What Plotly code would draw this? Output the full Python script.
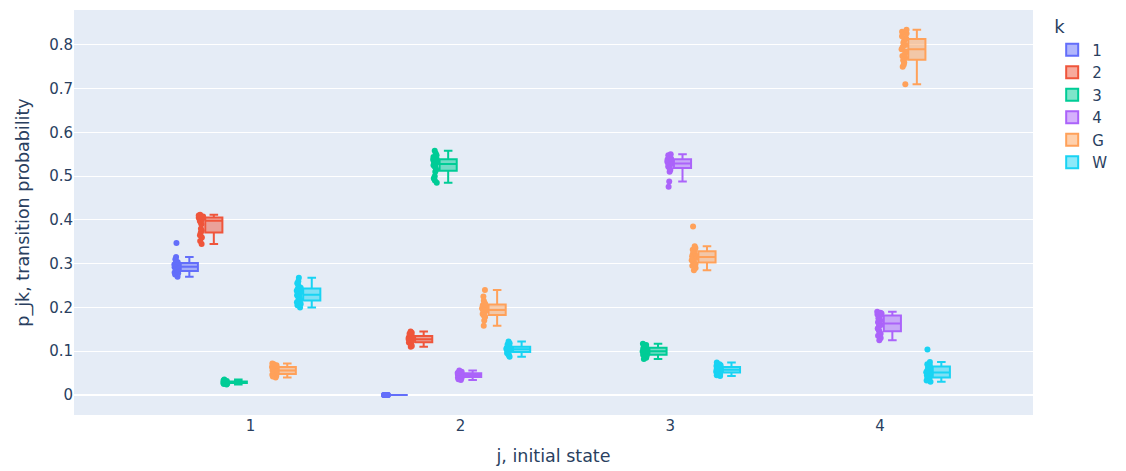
import plotly.graph_objects as go

# initial states (x categories) and destination states (series)
j_labels = ["1", "2", "3", "4"]
k_labels = ["1", "2", "3", "4", "G", "W"]
colors = ["#636efa", "#EF553B", "#00cc96", "#ab63fa", "#FFA15A", "#19d3f3"]

# k = 1
k1_j1 = [0.347, 0.315, 0.31, 0.305, 0.303, 0.30, 0.298, 0.296, 0.295, 0.294,
         0.292, 0.29, 0.288, 0.286, 0.284, 0.282, 0.28, 0.278, 0.275, 0.27]
k1_j2 = [0.0, 0.0, 0.0, 0.0, 0.0, 0.0, 0.0, 0.0, 0.0, 0.0, 0.0, 0.0, 0.0, 0.0, 0.0]
# k = 2
k2_j1 = [0.412, 0.41, 0.409, 0.408, 0.406, 0.405, 0.404, 0.402, 0.40, 0.398,
         0.395, 0.39, 0.38, 0.375, 0.37, 0.365, 0.36, 0.352, 0.345]
k2_j2 = [0.145, 0.142, 0.14, 0.138, 0.135, 0.133, 0.131, 0.13, 0.128, 0.127,
         0.126, 0.125, 0.123, 0.121, 0.12, 0.118, 0.115, 0.112, 0.11]
# k = 3
k3_j1 = [0.035, 0.033, 0.032, 0.031, 0.03, 0.03, 0.029, 0.029, 0.028, 0.028,
         0.027, 0.027, 0.026, 0.025, 0.024]
k3_j2 = [0.558, 0.552, 0.548, 0.544, 0.54, 0.538, 0.535, 0.533, 0.531, 0.529,
         0.527, 0.525, 0.522, 0.52, 0.515, 0.51, 0.5, 0.495, 0.49, 0.485]
k3_j3 = [0.117, 0.114, 0.112, 0.11, 0.108, 0.106, 0.104, 0.102, 0.1, 0.099,
         0.098, 0.096, 0.094, 0.092, 0.09, 0.088, 0.085, 0.082]
# k = 4
k4_j2 = [0.056, 0.053, 0.051, 0.05, 0.049, 0.048, 0.047, 0.046, 0.045, 0.044,
         0.043, 0.042, 0.041, 0.04, 0.038, 0.036, 0.034]
k4_j3 = [0.55, 0.548, 0.545, 0.543, 0.54, 0.538, 0.535, 0.533, 0.531, 0.53,
         0.528, 0.526, 0.524, 0.522, 0.52, 0.517, 0.514, 0.51, 0.488, 0.476]
k4_j4 = [0.19, 0.188, 0.186, 0.184, 0.182, 0.18, 0.175, 0.17, 0.166, 0.163,
         0.16, 0.156, 0.152, 0.148, 0.145, 0.14, 0.135, 0.13, 0.125]
# k = G
kG_j1 = [0.072, 0.07, 0.068, 0.066, 0.064, 0.062, 0.06, 0.058, 0.056, 0.055,
         0.054, 0.052, 0.05, 0.048, 0.046, 0.044, 0.042, 0.04]
kG_j2 = [0.24, 0.225, 0.215, 0.21, 0.207, 0.205, 0.2, 0.198, 0.196, 0.194,
         0.192, 0.19, 0.188, 0.185, 0.182, 0.18, 0.178, 0.17, 0.158]
kG_j3 = [0.385, 0.34, 0.336, 0.332, 0.329, 0.326, 0.322, 0.319, 0.317, 0.315,
         0.313, 0.311, 0.308, 0.305, 0.302, 0.299, 0.295, 0.29, 0.285]
kG_j4 = [0.835, 0.83, 0.826, 0.82, 0.815, 0.81, 0.805, 0.8, 0.795, 0.79,
         0.785, 0.78, 0.775, 0.77, 0.765, 0.76, 0.755, 0.75, 0.71]
# k = W
kW_j1 = [0.268, 0.26, 0.255, 0.25, 0.245, 0.242, 0.238, 0.235, 0.232, 0.23,
         0.228, 0.225, 0.222, 0.22, 0.217, 0.215, 0.212, 0.208, 0.205, 0.2]
kW_j2 = [0.122, 0.118, 0.115, 0.112, 0.11, 0.108, 0.107, 0.106, 0.105, 0.104,
         0.103, 0.102, 0.1, 0.098, 0.096, 0.093, 0.09, 0.087]
kW_j3 = [0.074, 0.07, 0.068, 0.066, 0.064, 0.062, 0.06, 0.059, 0.058, 0.057,
         0.056, 0.055, 0.053, 0.051, 0.049, 0.047, 0.045, 0.043]
kW_j4 = [0.104, 0.075, 0.07, 0.068, 0.065, 0.062, 0.058, 0.055, 0.052, 0.05,
         0.048, 0.045, 0.042, 0.04, 0.038, 0.035, 0.033, 0.03]

series = {
    "1": {"1": k1_j1, "2": k1_j2},
    "2": {"1": k2_j1, "2": k2_j2},
    "3": {"1": k3_j1, "2": k3_j2, "3": k3_j3},
    "4": {"2": k4_j2, "3": k4_j3, "4": k4_j4},
    "G": {"1": kG_j1, "2": kG_j2, "3": kG_j3, "4": kG_j4},
    "W": {"1": kW_j1, "2": kW_j2, "3": kW_j3, "4": kW_j4},
}

fig = go.Figure()
for k, col in zip(k_labels, colors):
    xs, ys = [], []
    for j in j_labels:
        vals = series[k].get(j, [])
        xs += [j] * len(vals)
        ys += vals
    fig.add_trace(go.Box(
        x=xs, y=ys, name=k, legendgroup=k, offsetgroup=k,
        boxpoints="all", marker=dict(color=col), line=dict(color=col),
        alignmentgroup="True", quartilemethod="linear", notched=False,
    ))

fig.update_layout(
    width=1126, height=471,
    template="plotly",
    font=dict(family="Verdana, 'DejaVu Sans', sans-serif", size=15),
    boxmode="group",
    margin=dict(l=66, r=101, t=2, b=64),
    legend=dict(title=dict(text="k"), tracegroupgap=0),
    xaxis=dict(title=dict(text="j, initial state", font=dict(size=17.5)),
               type="category", categoryorder="array", categoryarray=j_labels),
    yaxis=dict(title=dict(text="p_jk, transition probability", font=dict(size=17.5)),
               range=[-0.046, 0.88]),
)

fig.write_html("out.html")
